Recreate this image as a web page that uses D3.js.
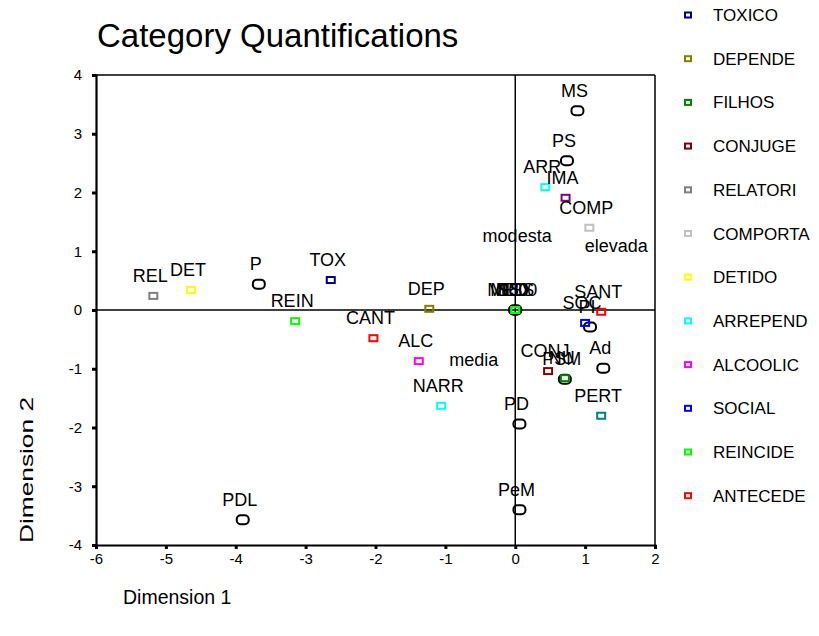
<!DOCTYPE html>
<html>
<head>
<meta charset="utf-8">
<script src="https://cdn.jsdelivr.net/npm/d3@7"></script>
<style>
  body { margin: 0; background: #fff; }
  text { font-family: "Liberation Sans", Arial, sans-serif; }
</style>
</head>
<body>
<div id="wrapper"></div>
<script>
// DATA
const legendNames = ["TOXICO", "DEPENDE", "FILHOS", "CONJUGE", "RELATORI", "COMPORTA",
  "DETIDO", "ARREPEND", "ALCOOLIC", "SOCIAL", "REINCIDE", "ANTECEDE"];
// groups 12 and 13 are cut off from the legend, 14 = black points, 15 = text only
const groupColors = ["#000080", "#808000", "#008000", "#800000", "#808080", "#c0c0c0",
  "#ffff00", "#00ffff", "#ff00ff", "#0000ff", "#00ff00", "#ff0000",
  "#800080", "#008080", "#000000", null];

const pointLabels = ["MISS", "N80", "S60", "MED0",
  "TOX", "DEP", "CONJ", "REL", "COMP", "DET", "ARR", "NARR", "ALC", "SOC", "REIN",
  "CANT", "SANT", "IMA", "PERT", "MS", "PS", "P", "PDL", "PD", "PeM", "Ad", "PI",
  "PSM", "NU", "modesta", "media", "elevada"];
const dim1 = [0, 0, 0, 0,
  -2.64, -1.23, 0.47, -5.18, 1.06, -4.64, 0.43, -1.06, -1.38, 1.0, -3.15,
  -2.03, 1.23, 0.72, 1.23, 0.89, 0.74, -3.67, -3.90, 0.06, 0.06, 1.26, 1.07,
  0.71, 0.71, 0.07, -0.55, 1.49];
const dim2 = [0, 0, 0, 0,
  0.51, 0.02, -1.04, 0.24, 1.40, 0.34, 2.09, -1.63, -0.87, -0.22, -0.19,
  -0.48, -0.03, 1.91, -1.80, 3.39, 2.54, 0.44, -3.57, -1.94, -3.40, -0.99, -0.29,
  -1.18, -1.16, 0.92, -1.19, 0.75];
const pointGroup = [14, 2, 10, 14,
  0, 1, 3, 4, 5, 6, 7, 7, 8, 9, 10,
  11, 11, 12, 13, 14, 14, 14, 14, 14, 14, 14, 14,
  14, 2, 15, 15, 15];

const xTicks = [-6, -5, -4, -3, -2, -1, 0, 1, 2];
const yTicks = [4, 3, 2, 1, 0, -1, -2, -3, -4];

// DIMENSIONS
const width = 819, height = 636;
const plot = { left: 96, right: 655, top: 75, bottom: 545 };

const svg = d3.select("#wrapper").append("svg")
  .attr("width", width).attr("height", height);

const xScale = d3.scaleLinear().domain([-6, 2]).range([plot.left, plot.right]);
const yScale = d3.scaleLinear().domain([-4, 4]).range([plot.bottom, plot.top]);

// title
svg.append("text")
  .attr("x", 97).attr("y", 47)
  .attr("font-size", 33)
  .text("Category Quantifications");

// frame top / right
svg.append("line").attr("x1", plot.left).attr("x2", plot.right)
  .attr("y1", plot.top).attr("y2", plot.top).attr("stroke", "#000").attr("stroke-width", 1.5);
svg.append("line").attr("x1", plot.right).attr("x2", plot.right)
  .attr("y1", plot.top).attr("y2", plot.bottom).attr("stroke", "#000").attr("stroke-width", 1.5);

// zero lines
svg.append("line").attr("x1", plot.left).attr("x2", plot.right)
  .attr("y1", yScale(0)).attr("y2", yScale(0)).attr("stroke", "#000").attr("stroke-width", 1.5);
svg.append("line").attr("x1", xScale(0)).attr("x2", xScale(0))
  .attr("y1", plot.top).attr("y2", plot.bottom).attr("stroke", "#000").attr("stroke-width", 1.5);

// axes
const fmt = d => String(d);
const xAxis = svg.append("g")
  .attr("transform", `translate(0,${plot.bottom})`)
  .call(d3.axisBottom(xScale).tickValues(xTicks).tickSize(4).tickPadding(4).tickFormat(fmt));
const yAxis = svg.append("g")
  .attr("transform", `translate(${plot.left},0)`)
  .call(d3.axisLeft(yScale).tickValues(yTicks).tickSize(4).tickPadding(10).tickFormat(fmt));

[xAxis, yAxis].forEach(a => {
  a.select(".domain").attr("stroke-width", 2.2);
  a.selectAll(".tick line").attr("stroke-width", 3);
  a.selectAll(".tick text").attr("font-size", 15)
    .attr("font-family", "'Liberation Sans', Arial, sans-serif").attr("fill", "#000");
});

// axis titles
svg.append("text")
  .attr("transform", `translate(33,470) rotate(-90)`)
  .attr("text-anchor", "middle").attr("font-size", 19)
  .attr("textLength", 146).attr("lengthAdjust", "spacingAndGlyphs")
  .text("Dimension 2");
svg.append("text")
  .attr("x", 123).attr("y", 604).attr("font-size", 19.5)
  .text("Dimension 1");

// points
const idx = d3.range(pointLabels.length);
const drawOrder = idx.slice().sort((a, b) => (pointGroup[b] === 14) - (pointGroup[a] === 14));

const marks = svg.append("g");
drawOrder.forEach(i => {
  const g = pointGroup[i];
  const cx = xScale(dim1[i]), cy = yScale(dim2[i]);
  if (g === 14) {
    marks.append("rect")
      .attr("x", cx - 6).attr("y", cy - 4.5).attr("width", 12).attr("height", 9)
      .attr("rx", 4).attr("fill", "none").attr("stroke", "#000").attr("stroke-width", 2);
  } else if (groupColors[g]) {
    marks.append("rect")
      .attr("x", cx - 4).attr("y", cy - 3).attr("width", 8).attr("height", 6)
      .attr("fill", "none").attr("stroke", groupColors[g]).attr("stroke-width", 2);
  }
});

svg.append("g").selectAll("text")
  .data(idx)
  .join("text")
  .attr("x", i => xScale(dim1[i]) - 3)
  .attr("y", i => yScale(dim2[i]) - 14)
  .attr("text-anchor", "middle")
  .attr("font-size", 18)
  .text(i => pointLabels[i]);

// legend
const legend = svg.append("g");
legendNames.forEach((name, i) => {
  const ly = 15 + i * 43.7;
  legend.append("rect")
    .attr("x", 685).attr("y", ly - 2.5).attr("width", 6).attr("height", 5)
    .attr("fill", "none").attr("stroke", groupColors[i]).attr("stroke-width", 2);
  legend.append("text")
    .attr("x", 713).attr("y", ly + 6).attr("font-size", 17)
    .text(name);
});
</script>
</body>
</html>
